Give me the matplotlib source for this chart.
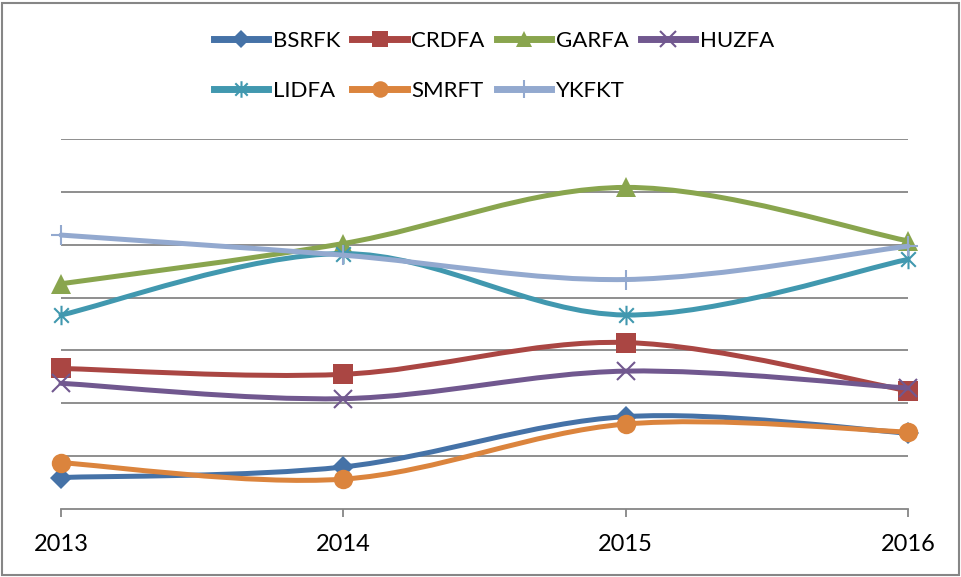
import numpy as np
import matplotlib
matplotlib.use('Agg')
import matplotlib.pyplot as plt
from matplotlib.path import Path
from matplotlib.patches import PathPatch, Rectangle
from matplotlib.lines import Line2D

plt.rcParams['font.family'] = ['Lato', 'DejaVu Sans']

# years on x axis
years = [2013, 2014, 2015, 2016]

# series values (grid step = 1)
bsrfk = [0.60, 0.80, 1.75, 1.44]
crdfa = [2.66, 2.55, 3.15, 2.24]
garfa = [4.26, 5.02, 6.08, 5.07]
huzfa = [2.38, 2.09, 2.61, 2.29]
lidfa = [3.67, 4.83, 3.67, 4.72]
smrft = [0.88, 0.57, 1.61, 1.46]
ykfkt = [5.18, 4.80, 4.34, 4.97]

names = ['BSRFK', 'CRDFA', 'GARFA', 'HUZFA', 'LIDFA', 'SMRFT', 'YKFKT']
series = [bsrfk, crdfa, garfa, huzfa, lidfa, smrft, ykfkt]
colors = ['#4572A7', '#AA4643', '#89A54E', '#71588F', '#4198AF', '#DB843D', '#93A9CF']

# asterisk marker like excel (vertical bar + x)
star = Path([(0, -1), (0, 1), (-0.75, -0.75), (0.75, 0.75), (-0.75, 0.75), (0.75, -0.75)],
            [Path.MOVETO, Path.LINETO, Path.MOVETO, Path.LINETO, Path.MOVETO, Path.LINETO])
markers = ['D', 's', '^', 'x', star, 'o', '+']
msizes = [11, 14, 14, 13, 14, 14, 15]
filled = [True, True, True, False, False, True, False]


def smooth_path(xs, ys):
    # excel-like smoothed line: catmull-rom bezier segments
    pts = np.column_stack([xs, ys]).astype(float)
    n = len(pts)
    verts = [pts[0]]
    codes = [Path.MOVETO]
    for i in range(n - 1):
        p0 = pts[max(i - 1, 0)]
        p1 = pts[i]
        p2 = pts[i + 1]
        p3 = pts[min(i + 2, n - 1)]
        verts += [p1 + (p2 - p0) / 6, p2 - (p3 - p1) / 6, p2]
        codes += [Path.CURVE4] * 3
    return Path(verts, codes)


fig = plt.figure(figsize=(9.62, 5.77), dpi=100)
ax = fig.add_axes([61 / 962, 1 - 509.3 / 577, (908 - 61) / 962, (509.3 - 138.7) / 577])

handles = []
for i, (nm, ys, c) in enumerate(zip(names, series, colors)):
    patch = PathPatch(smooth_path(years, ys), fill=False, edgecolor=c, lw=3.6,
                      capstyle='round', joinstyle='round', clip_on=False, zorder=3 + i)
    ax.add_patch(patch)
    kw = dict(color=c, marker=markers[i], markersize=msizes[i],
              markerfacecolor=c if filled[i] else 'none', markeredgecolor=c,
              markeredgewidth=0 if filled[i] else 1.5)
    ax.plot(years, ys, linestyle='none', clip_on=False, zorder=3 + i + 0.5, **kw)
    kw['markersize'] = msizes[i] * 0.85
    handles.append(Line2D([], [], lw=5, label=nm, **kw))

ax.set_xlim(2013, 2016)
ax.set_ylim(0, 7)
ax.set_xticks(years)
ax.set_xticklabels([str(y) for y in years])
ax.set_yticks(range(1, 8))
ax.set_yticklabels([])
ax.yaxis.grid(True, color='#868686', lw=1.3)
ax.set_axisbelow(True)
for s in ['top', 'left', 'right']:
    ax.spines[s].set_visible(False)
ax.spines['bottom'].set_color('#868686')
ax.spines['bottom'].set_linewidth(1.3)
ax.tick_params(axis='y', length=0)
ax.tick_params(axis='x', direction='out', length=6, width=1.3, color='#868686',
               labelsize=17, pad=12, labelcolor='black')

# legend fills column by column, reorder so rows read like excel
order = [0, 4, 1, 5, 2, 6, 3]
fig.legend(handles=[handles[k] for k in order], ncol=4, loc='upper left', frameon=False,
           bbox_to_anchor=(214 / 962, 1 - 31 / 577), fontsize=16,
           handlelength=2.45, handletextpad=0.2, columnspacing=0.55,
           labelspacing=1.35, borderpad=0, borderaxespad=0)

fig.patches.append(Rectangle((2 / 962, 2 / 577), 957 / 962, 572 / 577, transform=fig.transFigure,
                             fill=False, edgecolor='#868686', lw=1.5))

fig.savefig('out.png', dpi=100)
